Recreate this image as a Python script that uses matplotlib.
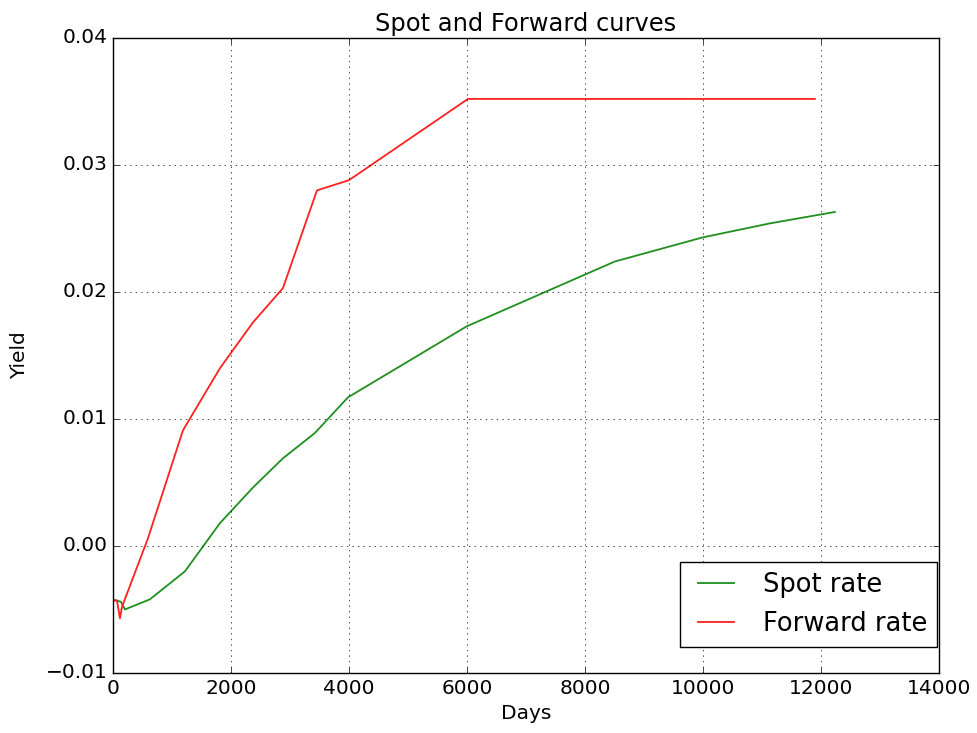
import matplotlib
matplotlib.use("Agg")
import matplotlib.pyplot as plt

spot_days = [34, 136, 203, 627, 1220, 1814, 2373, 2881, 3424, 3983, 5999, 8508, 10000, 11136, 12237]
spot_rate = [-0.00425, -0.0044, -0.0050, -0.0042, -0.0020, 0.0018, 0.0046, 0.0069, 0.0089,
             0.0117, 0.0173, 0.0224, 0.0243, 0.0254, 0.0263]

fwd_days = [34, 68, 119, 153, 593, 1186, 1814, 2373, 2881, 3458, 4000, 6017, 11898]
fwd_rate = [-0.0043, -0.0043, -0.0057, -0.0048, 0.0006, 0.0091, 0.0140, 0.0176, 0.0203,
            0.0280, 0.0288, 0.0352, 0.0352]

plt.style.use("classic")
plt.rcParams["font.family"] = ["DejaVu Sans"]
plt.rcParams["font.size"] = 14.5
plt.rcParams["figure.facecolor"] = "white"
plt.rcParams["savefig.facecolor"] = "white"

fig = plt.figure(figsize=(9.78, 7.33), dpi=100)
ax = fig.add_axes([0.1155, 0.0819, 0.8445, 0.8663])

ax.plot(spot_days, spot_rate, color="#1f8f1f", lw=1.3, label="Spot rate")
ax.plot(fwd_days, fwd_rate, color="#ff2020", lw=1.3, label="Forward rate")

ax.set_xlim(0, 14000)
ax.set_ylim(-0.01, 0.04)
ax.set_xticks(range(0, 14001, 2000))
ax.set_yticks([-0.01, 0.0, 0.01, 0.02, 0.03, 0.04])
ax.grid(True)
ax.set_title("Spot and Forward curves")
ax.set_xlabel("Days")
ax.set_ylabel("Yield", labelpad=12)
ax.legend(loc="lower right", bbox_to_anchor=(0.998, 0.041), borderaxespad=0,
          prop={"size": 18.5})

fig.savefig("out.png", dpi=100)
